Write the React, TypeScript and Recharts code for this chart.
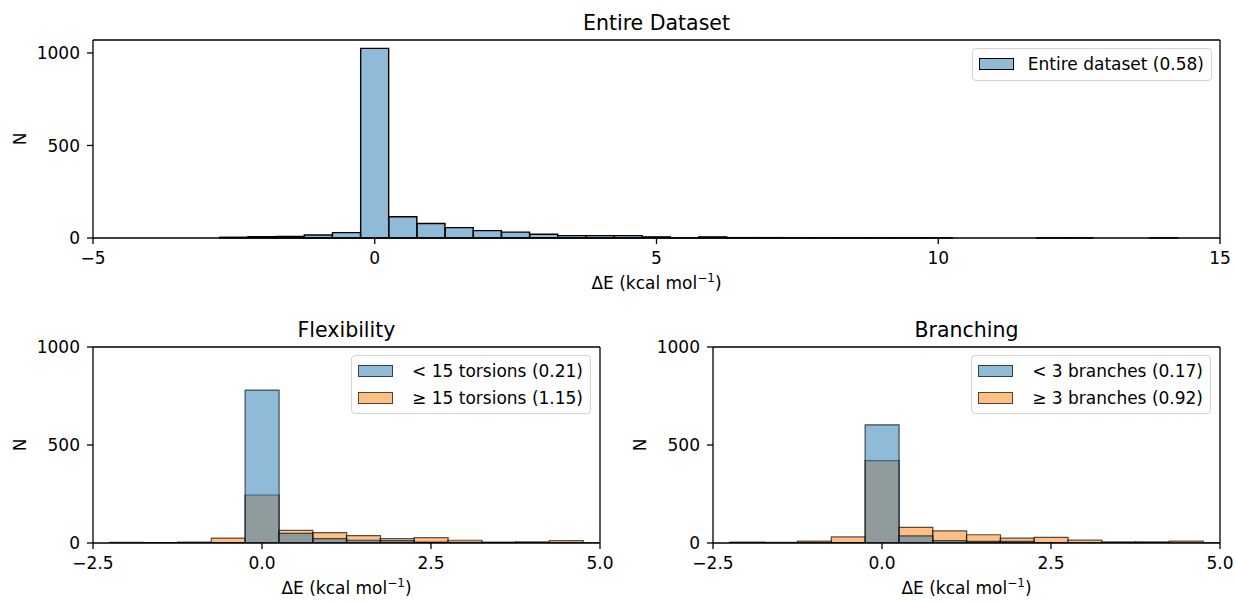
import React from 'react';
import { BarChart, Bar, XAxis, YAxis } from 'recharts';

// histogram bins (bin centres, width 0.5 kcal/mol)
const topBins = [-2.5, -2, -1.5, -1, -0.5, 0, 0.5, 1, 1.5, 2, 2.5, 3, 3.5, 4, 4.5, 5, 5.5, 6, 6.5, 7, 7.5, 8, 8.5, 9, 9.5, 10, 10.5, 11, 11.5, 12, 12.5, 13, 13.5, 14];
const topCounts = [4, 7, 9, 16, 29, 1025, 115, 78, 56, 40, 32, 20, 13, 13, 13, 6, 1, 6, 2, 2, 1, 1, 1, 1, 1, 1, 0, 0, 0, 1, 1, 0, 0, 1];

const subBins = [-2, -1.5, -1, -0.5, 0, 0.5, 1, 1.5, 2, 2.5, 3, 3.5, 4, 4.5, 5];
const flexLow = [1, 1, 1, 2, 780, 49, 22, 14, 12, 4, 3, 2, 1, 1, 0];
const flexHigh = [3, 2, 4, 25, 245, 64, 53, 38, 22, 27, 14, 5, 6, 12, 2];
const branchLow = [1, 1, 2, 1, 603, 36, 12, 8, 8, 2, 1, 1, 1, 0, 0];
const branchHigh = [4, 3, 10, 31, 420, 80, 62, 42, 25, 29, 15, 6, 6, 10, 2];

const topTicks = [-5, 0, 5, 10, 15];
const subTicks = [-2.5, 0, 2.5, 5];
const yTicks = [0, 500, 1000];

const FONT = 'DejaVu Sans';
const BLUE = '#1f77b4';
const ORANGE = '#ff7f0e';

const fmtInt = (v: number) => (v < 0 ? `\u2212${Math.abs(v)}` : `${v}`);
const fmtDec = (v: number) => (v < 0 ? `\u2212${Math.abs(v).toFixed(1)}` : v.toFixed(1));

const tickStyle = { fill: '#000', fontSize: 17, fontFamily: FONT };
const spine = { stroke: '#000', strokeWidth: 1.3 };

const XLabel = (props: any) => {
  const { viewBox } = props;
  const cx = viewBox.x + viewBox.width / 2;
  return (
    <text x={cx} y={viewBox.y + 51} textAnchor="middle" fontSize={17} fontFamily={FONT} fill="#000">
      ΔE (kcal mol<tspan dy={-7} fontSize={12}>{'\u22121'}</tspan><tspan dy={7}>)</tspan>
    </text>
  );
};

const YLabel = (props: any) => {
  const { viewBox } = props;
  const x = viewBox.x + viewBox.width - 67;
  const y = viewBox.y + viewBox.height / 2;
  return (
    <text x={x} y={y} transform={`rotate(-90, ${x}, ${y})`} textAnchor="middle" fontSize={17} fontFamily={FONT} fill="#000">
      N
    </text>
  );
};

// title sits on the (1px tall) top axis
const makeTitle = (title: string) => (props: any) => {
  const { viewBox } = props;
  return (
    <text x={viewBox.x + viewBox.width / 2} y={viewBox.y + viewBox.height - 10.5} textAnchor="middle" fontSize={20.5} fontFamily={FONT} fill="#000">
      {title}
    </text>
  );
};

interface LegendItem { label: string; fill: string; stroke: string; strokeWidth: number }

const LegendBox = ({ items, top, right }: { items: LegendItem[]; top: number; right: number }) => (
  <div style={{
    position: 'absolute', top, right, padding: '2px 7px 2px 6px',
    border: '1px solid #d3d3d3', borderRadius: 4, background: 'rgba(255,255,255,0.8)',
    fontFamily: FONT, fontSize: 17, color: '#000',
  }}>
    {items.map((it) => (
      <div key={it.label} style={{ display: 'flex', alignItems: 'center', height: 26.5, whiteSpace: 'pre' }}>
        <span style={{ display: 'inline-block', width: 35, height: 12, boxSizing: 'border-box', background: it.fill, border: `${it.strokeWidth}px solid ${it.stroke}`, marginRight: 14 }} />
        <span>{it.label}</span>
      </div>
    ))}
  </div>
);

const topData = topBins.map((x, i) => ({ x, n: topCounts[i] }));

const TopPanel = () => (
  <div style={{ position: 'absolute', left: 0, top: 0, width: 1236, height: 300 }}>
    <BarChart width={1236} height={300} data={topData} margin={{ top: 39, right: 15, bottom: 2, left: 0 }} barCategoryGap={0}>
      <XAxis dataKey="x" type="number" domain={[-5, 15]} ticks={topTicks} tickFormatter={fmtInt} allowDataOverflow
        height={60} tickSize={6} tickMargin={8} tick={tickStyle} tickLine={spine} axisLine={spine} label={{ content: XLabel }} />
      <XAxis xAxisId="top" dataKey="x" orientation="top" type="number" domain={[-5, 15]} height={1} tick={false} tickLine={false}
        axisLine={spine} label={{ content: makeTitle('Entire Dataset') }} />
      <YAxis domain={[0, 1070]} ticks={yTicks} width={93} tickSize={6} tickMargin={7} tick={tickStyle} tickLine={spine}
        axisLine={spine} label={{ content: YLabel }} />
      <YAxis yAxisId="right" orientation="right" width={1} domain={[0, 1]} tick={false} tickLine={false} axisLine={spine} />
      <Bar dataKey="n" fill={BLUE} fillOpacity={0.5} stroke="#000" strokeWidth={1.4} isAnimationActive={false} />
    </BarChart>
    <LegendBox top={48} right={24} items={[{ label: 'Entire dataset (0.58)', fill: 'rgba(31,119,180,0.5)', stroke: '#000', strokeWidth: 1.4 }]} />
  </div>
);

const SubPanel = ({ left, yWidth, marginRight, title, low, high, lowLabel, highLabel, legendRight }: any) => {
  const data = subBins.map((x, i) => ({ x, low: low[i], high: high[i] }));
  return (
    <div style={{ position: 'absolute', left, top: 300, width: 618, height: 302 }}>
      <BarChart width={618} height={302} data={data} margin={{ top: 46, right: marginRight, bottom: 0, left: 0 }} barCategoryGap={0}>
        <XAxis dataKey="x" type="number" domain={[-2.5, 5]} ticks={subTicks} tickFormatter={fmtDec} allowDataOverflow
          height={59} tickSize={6} tickMargin={8} tick={tickStyle} tickLine={spine} axisLine={spine} label={{ content: XLabel }} />
        <XAxis xAxisId="top" dataKey="x" orientation="top" type="number" domain={[-2.5, 5]} allowDataOverflow height={1}
          tick={false} tickLine={false} axisLine={spine} label={{ content: makeTitle(title) }} />
        <YAxis domain={[0, 1000]} ticks={yTicks} width={yWidth} tickSize={6} tickMargin={7} tick={tickStyle} tickLine={spine}
          axisLine={spine} allowDataOverflow label={{ content: YLabel }} />
        <YAxis yAxisId="right" orientation="right" width={1} domain={[0, 1]} tick={false} tickLine={false} axisLine={spine} />
        <Bar xAxisId="top" dataKey="high" fill={ORANGE} fillOpacity={0.5} stroke="#000" strokeOpacity={0.65} strokeWidth={1.2} isAnimationActive={false} />
        <Bar dataKey="low" fill={BLUE} fillOpacity={0.5} stroke="#000" strokeOpacity={0.65} strokeWidth={1.2} isAnimationActive={false} />
      </BarChart>
      <LegendBox top={55} right={legendRight} items={[
        { label: lowLabel, fill: 'rgba(31,119,180,0.5)', stroke: 'rgba(0,0,0,0.65)', strokeWidth: 1.2 },
        { label: highLabel, fill: 'rgba(255,127,14,0.5)', stroke: 'rgba(0,0,0,0.65)', strokeWidth: 1.2 },
      ]} />
    </div>
  );
};

export default function App() {
  return (
    <div style={{ position: 'absolute', left: 0, top: 0, width: 1236, height: 602, background: '#fff', fontFamily: FONT }}>
      <TopPanel />
      <SubPanel left={0} yWidth={93} marginRight={17} title="Flexibility" low={flexLow} high={flexHigh}
        lowLabel={'\u00a0< 15 torsions (0.21)'} highLabel={'\u00a0\u2265 15 torsions (1.15)'} legendRight={27} />
      <SubPanel left={618} yWidth={95} marginRight={15} title="Branching" low={branchLow} high={branchHigh}
        lowLabel={'\u00a0< 3 branches (0.17)'} highLabel={'\u00a0\u2265 3 branches (0.92)'} legendRight={25} />
    </div>
  );
}
